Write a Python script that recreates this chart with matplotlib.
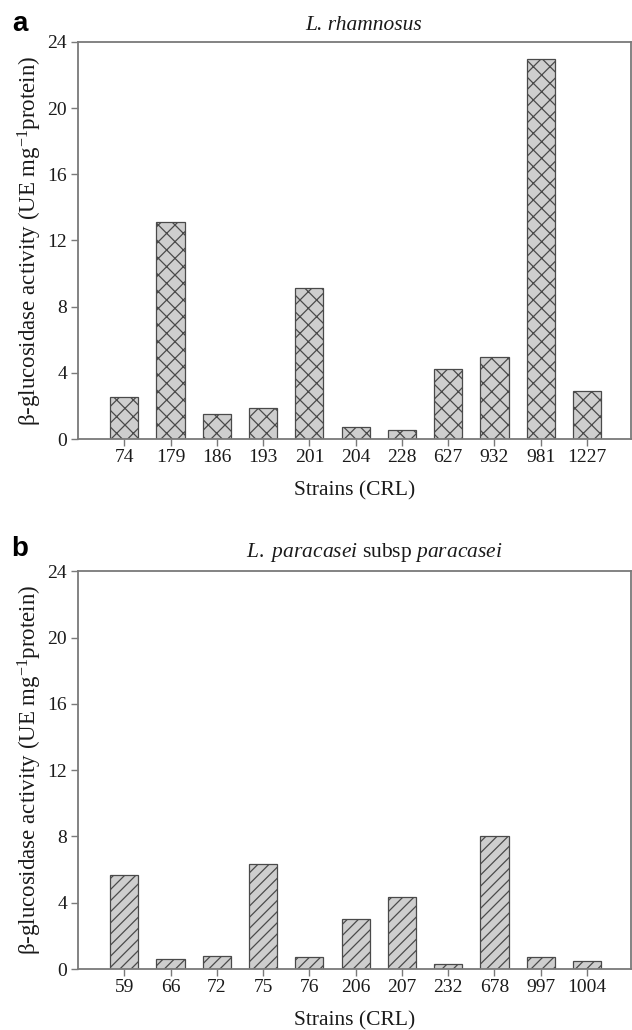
import matplotlib
matplotlib.use("Agg")
import matplotlib.pyplot as plt
import numpy as np

plt.rcParams['font.family'] = ['Liberation Serif', 'DejaVu Serif']
plt.rcParams['mathtext.fontset'] = 'custom'
plt.rcParams['mathtext.rm'] = 'Liberation Serif'
plt.rcParams['mathtext.it'] = 'Liberation Serif:italic'
plt.rcParams['hatch.linewidth'] = 0.9

# Panel a: L. rhamnosus
strains_a = ['74', '179', '186', '193', '201', '204', '228', '627', '932', '981', '1227']
values_a = [2.55, 13.12, 1.5, 1.87, 9.1, 0.72, 0.54, 4.26, 4.96, 22.98, 2.91]

# Panel b: L. paracasei subsp paracasei
strains_b = ['59', '66', '72', '75', '76', '206', '207', '232', '678', '997', '1004']
values_b = [5.67, 0.62, 0.80, 6.33, 0.70, 2.99, 4.32, 0.30, 8.0, 0.72, 0.48]

yticks = [0, 4, 8, 12, 16, 20, 24]

W, H = 632, 1030
fig = plt.figure(figsize=(W / 100, H / 100), dpi=100)

spine_col = '#7a7a7a'
edge_col = '#4a4a4a'
fill_col = '#cecece'
ylabel = r'β-glucosidase activity (UE mg$^{\mathregular{-1}}$protein)'


def make_panel(top_px, bot_px, strains, values, hatch):
    left_px, right_px = 78, 631
    ax = fig.add_axes([left_px / W, 1 - bot_px / H, (right_px - left_px) / W, (bot_px - top_px) / H])
    x = np.arange(len(strains))
    ax.bar(x, values, width=0.61, color=fill_col, edgecolor=edge_col, linewidth=0.9,
           hatch=hatch, zorder=2)
    ax.set_xlim(-1.0, 10.95)
    ax.set_ylim(0, 24)
    ax.set_yticks(yticks)
    ax.set_xticks(x)
    ax.set_xticklabels(strains)
    for s in ax.spines.values():
        s.set_color(spine_col)
        s.set_linewidth(1.3)
    ax.tick_params(axis='both', direction='out', length=5, width=1.0, color=spine_col,
                   labelsize=14, labelcolor='#1a1a1a')
    ax.tick_params(axis='x', pad=2)
    ax.tick_params(axis='y', pad=3)
    ax.set_xlabel('Strains (CRL)', fontsize=15.5, color='#1a1a1a', labelpad=11)
    ax.set_ylabel(ylabel, fontsize=16.5, color='#1a1a1a', labelpad=2.5)
    return ax


ax1 = make_panel(41.8, 439.1, strains_a, values_a, 'xx')
ax2 = make_panel(571.2, 969.0, strains_b, values_b, '///')

fig.text(364 / W, 1 - 26 / H, 'L. rhamnosus', fontsize=15.5, style='italic',
         ha='center', va='center', color='#1a1a1a')
fig.text(374 / W, 1 - 553 / H,
         r'$\mathit{L.\ paracasei}$ subsp $\mathit{paracasei}$',
         fontsize=15.5, ha='center', va='center', color='#1a1a1a')

fig.text(20 / W, 1 - 24 / H, 'a', fontsize=20, fontweight='bold', family='Liberation Sans',
         ha='center', va='center')
fig.text(20 / W, 1 - 549 / H, 'b', fontsize=20, fontweight='bold', family='Liberation Sans',
         ha='center', va='center')

fig.savefig('out.png', dpi=100)
